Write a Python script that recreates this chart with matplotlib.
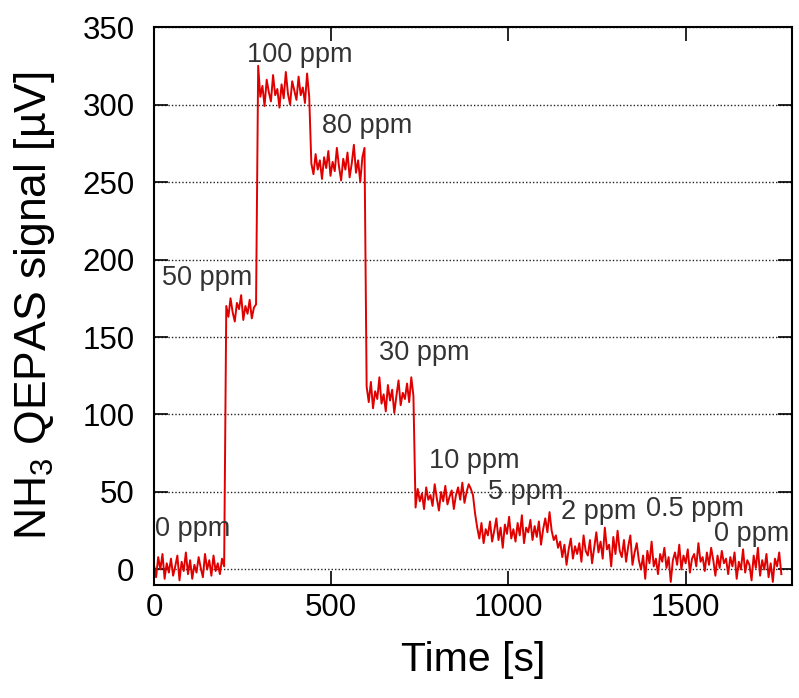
import numpy as np
import matplotlib
matplotlib.use("Agg")
import matplotlib.pyplot as plt

plt.rcParams['font.family'] = ['Liberation Sans', 'DejaVu Sans']
plt.rcParams['mathtext.fontset'] = 'custom'
plt.rcParams['mathtext.rm'] = 'Liberation Sans'
plt.rcParams['mathtext.default'] = 'regular'

# sampling grid of the trace (s)
time_s = np.arange(0, 1776, 6)

# QEPAS signal, one row per 60 s
signal_uV = [
    3, -5, 8, 0, 10, -6, 4, -2, 7, -4,
    2, 9, -7, 5, -1, 11, -3, 6, -6, 3,
    -2, 8, 1, -5, 10, 0, 6, -4, 9, -1,
    4, -3, 7, 2, 170, 163, 175, 166, 160, 172,
    168, 177, 161, 170, 165, 174, 162, 169, 171, 325,
    305, 312, 299, 316, 308, 302, 319, 306, 310, 298,
    313, 304, 321, 307, 300, 315, 309, 303, 318, 306,
    311, 301, 320, 305, 262, 255, 268, 258, 264, 252,
    266, 259, 270, 254, 263, 257, 272, 260, 251, 265,
    258, 269, 253, 262, 274, 256, 264, 250, 266, 272,
    118, 108, 121, 104, 115, 110, 124, 107, 113, 102,
    119, 109, 116, 101, 112, 122, 106, 114, 110, 120,
    108, 124, 112, 40, 52, 44, 49, 39, 53, 45,
    48, 41, 55, 46, 38, 50, 44, 54, 42, 47,
    51, 39, 48, 53, 45, 56, 43, 50, 55, 52,
    48, 36, 27, 20, 30, 17, 26, 22, 31, 18,
    25, 33, 19, 27, 14, 29, 23, 34, 20, 26,
    18, 30, 22, 35, 17, 27, 24, 32, 19, 28,
    21, 31, 16, 26, 33, 24, 37, 25, 19, 22,
    14, 18, 8, 16, 3, 13, 20, 7, 15, 10,
    17, 5, 22, 12, 9, 19, 4, 14, 24, 11,
    18, 7, 27, 13, 16, 2, 21, 10, 25, 12,
    8, 19, 5, 15, 22, 3, 11, 17, 6, 0,
    9, -6, 12, 4, 18, 2, 7, -3, 10, 5,
    14, 1, 8, -8, 6, 11, 3, 16, 0, 9,
    4, 13, -2, 7, 10, 2, 17, 5, 8, -1,
    11, 3, 14, 6, -4, 9, 1, 12, 4, 7,
    -3, 8, 2, 11, -6, 5, 0, 13, -2, 6,
    3, -7, 9, 1, 14, -4, 6, 0, 10, -5,
    4, -8, 7, 2, 11, -3,
]

# concentration labels and where they sit (data coords, left edge)
conc_labels = ['0 ppm', '50 ppm', '100 ppm', '80 ppm', '30 ppm',
               '10 ppm', '5 ppm', '2 ppm', '0.5 ppm', '0 ppm']
label_x = [2, 24, 262, 473, 634, 777, 941, 1149, 1389, 1580]
label_y = [26, 188, 332, 286, 140, 70, 50, 37, 39, 23]

fig = plt.figure(figsize=(7.99, 6.98), dpi=100)
ax = fig.add_axes([0.1927, 0.1619, 0.7985, 0.7994])

ax.plot(time_s, signal_uV, color='#e00000', lw=1.4)

for txt, x, y in zip(conc_labels, label_x, label_y):
    ax.text(x, y, txt, fontsize=19.5, color='#333333', ha='left', va='center')

ax.set_xlim(0, 1800)
ax.set_ylim(-10, 350)
ax.set_xticks([0, 500, 1000, 1500])
ax.set_yticks(np.arange(0, 351, 50))
ax.yaxis.grid(True, linestyle=(0, (1, 1.5)), color='#222222', lw=1)
ax.set_axisbelow(True)

ax.tick_params(direction='in', length=10, width=1.2, labelsize=22.5,
               top=True, right=True)
ax.tick_params(axis='y', pad=14)
ax.tick_params(axis='x', pad=6)
for s in ax.spines.values():
    s.set_linewidth(1.5)

ax.set_xlabel('Time [s]', fontsize=29.5, labelpad=13)
ax.set_ylabel(r'NH$_3$ QEPAS signal [µV]', fontsize=32, labelpad=18)

fig.savefig('out.png', dpi=100)
